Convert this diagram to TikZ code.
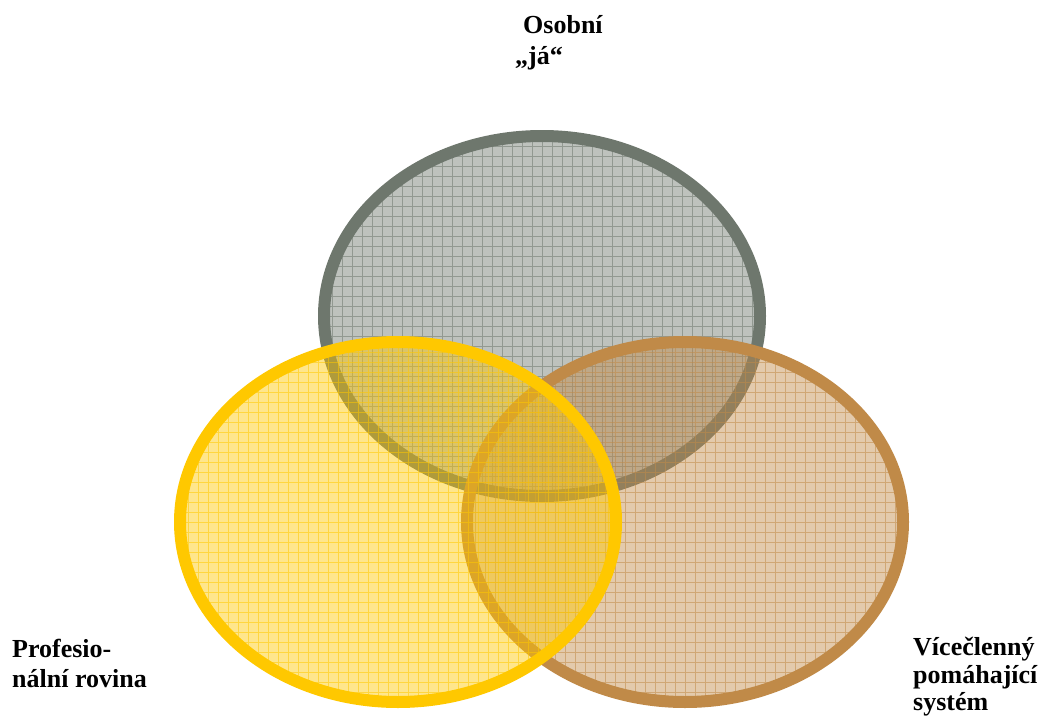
\documentclass[tikz,border=0pt]{standalone}
\usepackage{fontspec}
\setmainfont{Liberation Serif}
\usetikzlibrary{shapes.geometric}
\definecolor{cgrey}{RGB}{110,119,109}
\definecolor{cyellow}{RGB}{255,200,0}
\definecolor{cbrown}{RGB}{192,138,72}
\begin{document}
\begin{tikzpicture}[x=1pt,y=-1pt,
  venn/.style={ellipse, draw=#1, line width=12pt, fill=#1, fill opacity=0.45,
    inner sep=0pt, outer sep=0pt, minimum width=436pt, minimum height=360pt,
    path picture={\draw[draw=#1, draw opacity=0.55, line width=1pt, step=10pt]
      (path picture bounding box.south west) grid (path picture bounding box.north east);}},
  lbl/.style={anchor=base west, inner sep=0pt, font=\fontsize{26}{30}\selectfont\bfseries}]
\useasboundingbox (0,0) rectangle (1044,720);
\node[venn=cgrey] (grey) at (542,316) {};
\node[venn=cbrown] (brown) at (685,522) {};
\node[venn=cyellow] (yellow) at (398,522) {};
\node[lbl] (osobni) at (523,33) {Osobní};
\node[lbl] (ja) at (515,64) {„já“};
\node[lbl] (prof1) at (12,657) {Profesio-};
\node[lbl] (prof2) at (12,687) {nální rovina};
\node[lbl] (vic1) at (913,655) {Vícečlenný};
\node[lbl] (vic2) at (913,683) {pomáhající};
\node[lbl] (vic3) at (913,710) {systém};
\end{tikzpicture}
\end{document}
